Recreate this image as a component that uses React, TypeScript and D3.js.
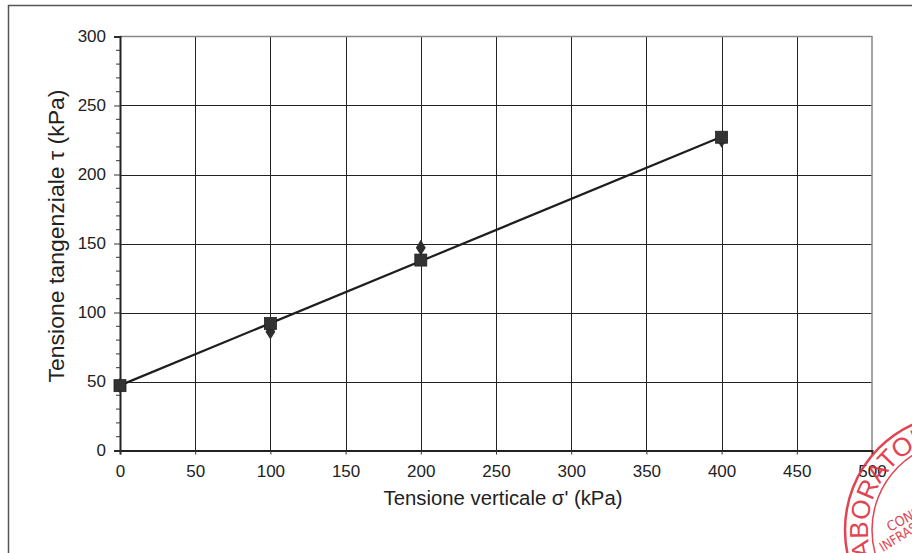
import React, { useEffect, useRef } from "react";
import * as d3 from "d3";

// sigma' (kPa)
const sigma = [0, 100, 200, 400];
// shear stress tau (kPa): diamonds and squares series
const tauDiamond = [47, 86, 147, 225];
const tauSquare = [47, 92, 138, 227];

const xTicks = [0, 50, 100, 150, 200, 250, 300, 350, 400, 450, 500];
const yTicks = [0, 50, 100, 150, 200, 250, 300];
const yMinor = d3.range(0, 301, 10).filter((v) => v % 50 !== 0);

const W = 912;
const H = 553;

export default function App() {
  const svgRef = useRef<SVGSVGElement | null>(null);

  useEffect(() => {
    const svg = d3.select(svgRef.current);
    svg.selectAll("*").remove();

    const x = d3.scaleLinear().domain([0, 500]).range([120, 872]);
    const y = d3.scaleLinear().domain([0, 300]).range([450.5, 36.5]);
    const font = "'Liberation Sans', Arial, sans-serif";

    // outer frame
    svg.append("path")
      .attr("d", `M8.5,${H} L8.5,5.5 L${W},5.5`)
      .attr("fill", "none")
      .attr("stroke", "#555")
      .attr("stroke-width", 1.5);

    // grid
    const g = svg.append("g");
    g.selectAll("line.vg")
      .data(xTicks.slice(1, -1))
      .enter()
      .append("line")
      .attr("x1", (d) => Math.round(x(d)) + 0.5)
      .attr("x2", (d) => Math.round(x(d)) + 0.5)
      .attr("y1", y(300))
      .attr("y2", y(0))
      .attr("stroke", "#222")
      .attr("stroke-width", 1);
    g.selectAll("line.hg")
      .data(yTicks.slice(1, -1))
      .enter()
      .append("line")
      .attr("x1", x(0))
      .attr("x2", x(500))
      .attr("y1", (d) => Math.round(y(d)) + 0.5)
      .attr("y2", (d) => Math.round(y(d)) + 0.5)
      .attr("stroke", "#222")
      .attr("stroke-width", 1);

    // plot border top/right
    g.append("path")
      .attr("d", `M${x(0)},${y(300)} L${x(500)},${y(300)} L${x(500)},${y(0)}`)
      .attr("fill", "none")
      .attr("stroke", "#888")
      .attr("stroke-width", 1.5);

    // y axis
    const ya = svg.append("g")
      .attr("transform", `translate(${x(0)},0)`)
      .call(d3.axisLeft(y).tickValues(yTicks).tickSize(6).tickPadding(8));
    ya.select(".domain").attr("stroke", "#222").attr("stroke-width", 2);
    ya.selectAll(".tick line").attr("stroke", "#333");
    ya.selectAll(".tick text")
      .style("font-family", font)
      .style("font-size", "17px")
      .attr("fill", "#222");
    // minor ticks
    ya.selectAll("line.minor")
      .data(yMinor)
      .enter()
      .append("line")
      .attr("x1", -4)
      .attr("x2", 0)
      .attr("y1", (d) => y(d))
      .attr("y2", (d) => y(d))
      .attr("stroke", "#333");

    // x axis
    const xa = svg.append("g")
      .attr("transform", `translate(0,${y(0)})`)
      .call(d3.axisBottom(x).tickValues(xTicks).tickSize(4));
    xa.select(".domain").attr("stroke", "#222").attr("stroke-width", 2);
    xa.selectAll(".tick line").attr("stroke", "#333");
    xa.selectAll(".tick text")
      .attr("y", 26.5)
      .attr("dy", 0)
      .style("font-family", font)
      .style("font-size", "17px")
      .attr("fill", "#222");

    // linear trend line of the square series
    const mx = d3.mean(sigma)!;
    const my = d3.mean(tauSquare)!;
    const slope =
      d3.sum(sigma, (s, i) => (s - mx) * (tauSquare[i] - my)) /
      d3.sum(sigma, (s) => (s - mx) * (s - mx));
    const icpt = my - slope * mx;
    const xMax = d3.max(sigma)!;
    svg.append("line")
      .attr("x1", x(0))
      .attr("y1", y(icpt))
      .attr("x2", x(xMax))
      .attr("y2", y(icpt + slope * xMax))
      .attr("stroke", "#1e1e1e")
      .attr("stroke-width", 2.2);

    // diamonds
    svg.selectAll("path.dia")
      .data(sigma)
      .enter()
      .append("path")
      .attr("d", d3.symbol(d3.symbolDiamond, 70)())
      .attr("transform", (d, i) => `translate(${x(d)},${y(tauDiamond[i])}) scale(1.1,1)`)
      .attr("fill", "#2e2e2e");

    // squares
    svg.selectAll("rect.sq")
      .data(sigma)
      .enter()
      .append("rect")
      .attr("x", (d) => x(d) - 6)
      .attr("y", (d, i) => y(tauSquare[i]) - 6)
      .attr("width", 12)
      .attr("height", 12)
      .attr("fill", "#333")
      .attr("stroke", "#222")
      .attr("stroke-width", 0.8);

    // axis titles
    svg.append("text")
      .attr("transform", `translate(64,236) rotate(-90)`)
      .attr("text-anchor", "middle")
      .attr("textLength", 293)
      .attr("lengthAdjust", "spacingAndGlyphs")
      .style("font-family", font)
      .style("font-size", "22px")
      .attr("fill", "#222")
      .text("Tensione tangenziale τ (kPa)");
    svg.append("text")
      .attr("x", 503)
      .attr("y", 505)
      .attr("text-anchor", "middle")
      .attr("textLength", 239)
      .attr("lengthAdjust", "spacingAndGlyphs")
      .style("font-family", font)
      .style("font-size", "20.5px")
      .attr("fill", "#222")
      .text("Tensione verticale σ' (kPa)");

    // lab stamp (partially visible, bottom-right)
    const cx = 961, cy = 530;
    const red = "#e0303f";
    const st = svg.append("g").attr("opacity", 0.9);
    st.append("circle").attr("cx", cx).attr("cy", cy).attr("r", 116)
      .attr("fill", "none").attr("stroke", red).attr("stroke-width", 2.5);
    st.append("circle").attr("cx", cx).attr("cy", cy).attr("r", 89)
      .attr("fill", "none").attr("stroke", red).attr("stroke-width", 1.5);
    const deg = Math.PI / 180;
    const arcPath = (r: number, a0: number, a1: number) => {
      const p0 = [cx + r * Math.cos(a0 * deg), cy + r * Math.sin(a0 * deg)];
      const p1 = [cx + r * Math.cos(a1 * deg), cy + r * Math.sin(a1 * deg)];
      return `M${p0[0]},${p0[1]} A${r},${r} 0 0 1 ${p1[0]},${p1[1]}`;
    };
    svg.append("defs").append("path").attr("id", "stA").attr("d", arcPath(93, 155, 300));
    st.append("text")
      .style("font-family", font)
      .style("font-size", "26px")
      .attr("fill", red)
      .append("textPath")
      .attr("href", "#stA")
      .text("LABORATORIO");
    st.append("text")
      .attr("transform", "translate(890,532) rotate(-28)")
      .style("font-family", "'Liberation Sans Narrow', 'DejaVu Sans Condensed', sans-serif")
      .style("font-size", "14px")
      .attr("fill", red)
      .text("CONSORZIO");
    st.append("text")
      .attr("transform", "translate(883,552) rotate(-32)")
      .style("font-family", "'Liberation Sans Narrow', 'DejaVu Sans Condensed', sans-serif")
      .style("font-size", "13px")
      .attr("fill", red)
      .text("INFRASTRUTTURE");
  }, []);

  return (
    <svg
      ref={svgRef}
      width={W}
      height={H}
      style={{ position: "absolute", left: 0, top: 0, background: "#fff" }}
    />
  );
}
